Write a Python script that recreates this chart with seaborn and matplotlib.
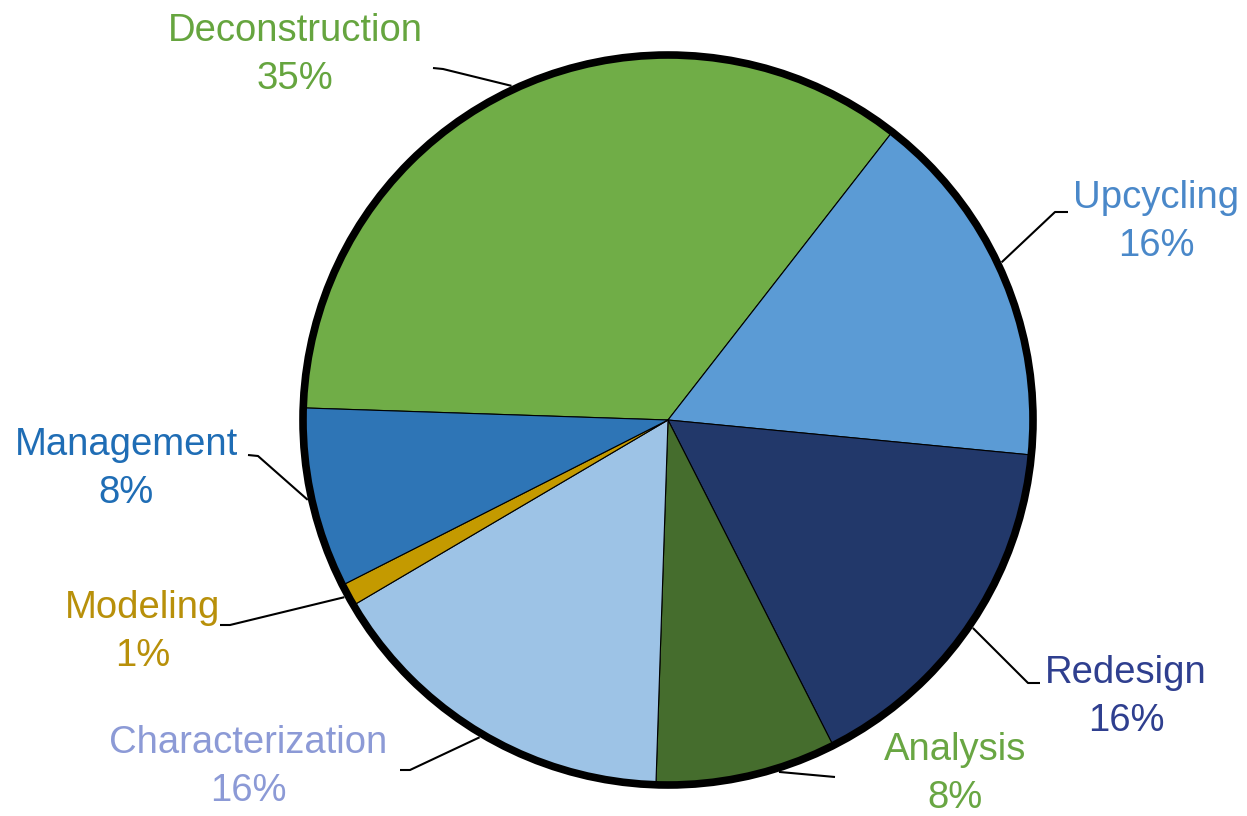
import numpy as np
import matplotlib
matplotlib.use("Agg")
import matplotlib.pyplot as plt
from matplotlib.patches import Circle
import seaborn as sns

# data
categories = ["Deconstruction", "Upcycling", "Redesign", "Analysis",
              "Characterization", "Modeling", "Management"]
shares = [35, 16, 16, 8, 16, 1, 8]

slice_colors = ["#70AD47", "#5B9BD5", "#22386A", "#456D2D",
                "#9DC3E6", "#C49A00", "#2E75B6"]
text_colors = ["#66A53F", "#4A88C9", "#2F3F8F", "#69A643",
               "#8C9AD6", "#B8900A", "#1F6DB5"]

W, H = 1247, 816
cx, cy, R = 668, 420, 364

# label layout in pixel coords (y down): text centre, elbow, end of leader
label_pos = [(295, 55), (1156, 222), (1126, 697), (955, 774),
             (248, 767), (143, 632), (126, 469)]
leader_elbow = [(443, 69), (1055, 212), (1028, 683), (835, 777),
                (410, 770), (230, 625), (258, 456)]
leader_end = [(433, 68), (1068, 212), (1040, 683), (835, 777),
              (400, 770), (220, 625), (248, 455)]
# small nudge of the leader start along the rim (degrees)
leader_shift = [0, 2, 0, 5, 0, 0, 0]

sns.set_theme(style="white")
plt.rcParams["font.family"] = ["Liberation Sans", "DejaVu Sans"]

fig = plt.figure(figsize=(W / 100, H / 100), dpi=100)
ax = fig.add_axes([0, 0, 1, 1])

wedges, _ = ax.pie(shares, colors=slice_colors, startangle=178.1,
                   counterclock=False, center=(cx, H - cy), radius=R,
                   wedgeprops=dict(edgecolor="black", linewidth=0.8))
ax.add_patch(Circle((cx, H - cy), R + 1, fill=False, edgecolor="black",
                    linewidth=5.5, zorder=5))

for w, name, share, tc, (tx, ty), (ex, ey), (lx, ly), sh in zip(
        wedges, categories, shares, text_colors, label_pos,
        leader_elbow, leader_end, leader_shift):
    mid = np.deg2rad((w.theta1 + w.theta2) / 2 + sh)
    sx = cx + (R + 5) * np.cos(mid)
    sy = (H - cy) + (R + 5) * np.sin(mid)
    ax.plot([sx, ex, lx], [sy, H - ey, H - ly], color="black",
            linewidth=1.5, zorder=6, solid_capstyle="butt")
    ax.text(tx, H - ty, f"{name}\n{share}%", color=tc, fontsize=27.5,
            ha="center", va="center", linespacing=1.45)

ax.set_xlim(0, W)
ax.set_ylim(0, H)
ax.set_aspect("auto")
ax.axis("off")

fig.savefig("out.png", dpi=100, facecolor="white")
